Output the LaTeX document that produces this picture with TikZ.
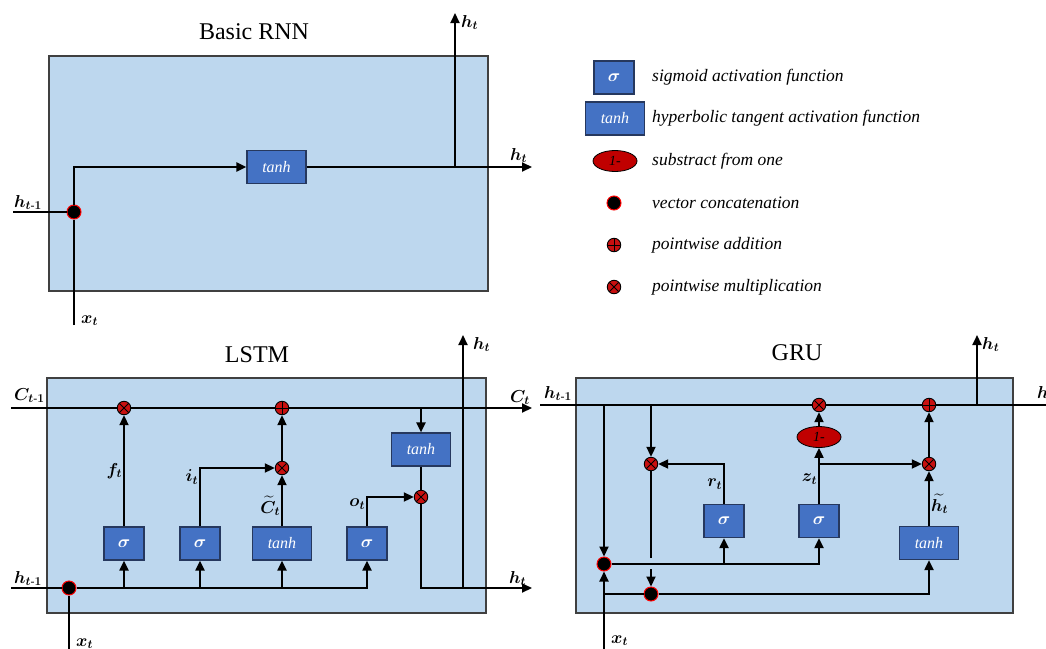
\documentclass[tikz,border=0pt]{standalone}
\usepackage{amsmath}
\usepackage{fontspec}
\setmainfont{Liberation Serif}
\usetikzlibrary{arrows.meta, positioning, shapes.geometric}
\definecolor{cellblue}{RGB}{189,215,238}
\definecolor{cellline}{RGB}{64,64,64}
\definecolor{actblue}{RGB}{68,114,196}
\definecolor{actline}{RGB}{38,56,94}
\definecolor{opred}{RGB}{200,16,16}
\definecolor{onered}{RGB}{192,0,0}
\tikzset{
  cell/.style={rectangle, draw=cellline, fill=cellblue, line width=1.3pt,
    inner sep=0pt, minimum width=439pt, minimum height=235pt},
  actbox/.style={rectangle, draw=actline, fill=actblue, line width=1.2pt,
    inner sep=0pt, minimum height=33pt, text=white},
  sigbox/.style={actbox, minimum width=40pt, font=\fontsize{16}{16}\selectfont\boldmath},
  tanhbox/.style={actbox, minimum width=59pt, font=\itshape\fontsize{16}{16}\selectfont},
  onebox/.style={ellipse, draw=black, fill=onered, line width=0.8pt, inner sep=0pt,
    minimum width=44pt, minimum height=21pt, font=\itshape\fontsize{14}{14}\selectfont},
  concat/.style={circle, draw=red, fill=black, line width=1pt, inner sep=0pt,
    minimum size=14pt},
  multop/.style={circle, draw=black, fill=opred, line width=0.9pt, inner sep=0pt,
    minimum size=13.5pt, path picture={
      \draw[black, line width=0.9pt]
        ([shift={(45:7pt)}]path picture bounding box.center) --
        ([shift={(225:7pt)}]path picture bounding box.center)
        ([shift={(135:7pt)}]path picture bounding box.center) --
        ([shift={(-45:7pt)}]path picture bounding box.center);}},
  addop/.style={circle, draw=black, fill=opred, line width=0.9pt, inner sep=0pt,
    minimum size=13.5pt, path picture={
      \draw[black, line width=0.9pt]
        (path picture bounding box.north) -- (path picture bounding box.south)
        (path picture bounding box.west) -- (path picture bounding box.east);}},
  wire/.style={line width=2pt},
  flow/.style={wire, -{Triangle[length=10pt, width=9pt]}},
  lbl/.style={inner sep=1pt, font=\fontsize{17}{17}\selectfont\boldmath},
  title/.style={font=\fontsize{24}{28}\selectfont},
  legtext/.style={anchor=west, inner sep=0pt, font=\itshape\fontsize{17.5}{20}\selectfont},
}

\begin{document}
\begin{tikzpicture}[x=1pt, y=-1pt]
  \useasboundingbox (0,0) rectangle (1046,648);

  % Basic RNN
  \node[title] (rnntitle) at (254,32) {Basic RNN};
  \node[cell] (rnncell) at (268.5,173.5) {};
  \node[concat] (rnncat) at (74,212) {};
  \node[tanhbox] (rnntanh) at (276.5,167) {tanh};
  \coordinate (rnnin) at (13,212);
  \coordinate (rnnx) at (74,325);
  \coordinate (rnnout) at (532,167);
  \coordinate (rnnup) at (455,13);
  \draw[wire] (rnnin) -- (rnncat);
  \draw[wire] (rnnx) -- (rnncat);
  \draw[flow] (rnncat) |- (rnntanh);
  \draw[flow] (rnntanh) -- (rnnout);
  \draw[flow] (rnntanh -| rnnup) -- (rnnup);
  \node[lbl, anchor=base west] (rnnhprev) at (13,207) {$h_{t\text{-}1}$};
  \node[lbl, anchor=base west] (rnnxt) at (80,323) {$x_t$};
  \node[lbl, anchor=base west] (rnnhout) at (509,160) {$h_t$};
  \node[lbl, anchor=base west] (rnnhup) at (460,27) {$h_t$};

  % Legend
  \node[sigbox] (legsig) at (614,77.5) {$\sigma$};
  \node[tanhbox] (legtanh) at (615,118.5) {tanh};
  \node[onebox] (legone) at (615,161) {1-};
  \node[concat] (legcat) at (614,203) {};
  \node[addop] (legadd) at (614,245) {};
  \node[multop] (legmul) at (614,287) {};
  \node[legtext] (legsigtxt) at (652,77.5) {sigmoid activation function};
  \node[legtext] (legtanhtxt) at (652,118.5) {hyperbolic tangent activation function};
  \node[legtext] (legonetxt) at (652,161) {substract from one};
  \node[legtext] (legcattxt) at (652,203) {vector concatenation};
  \node[legtext] (legaddtxt) at (652,245) {pointwise addition};
  \node[legtext] (legmultxt) at (652,287) {pointwise multiplication};

  % LSTM
  \node[title] (lstmtitle) at (257,355) {LSTM};
  \node[cell] (lstmcell) at (266.5,495.5) {};
  \node[multop] (lmulf) at (124,408) {};
  \node[addop] (ladd) at (282,408) {};
  \node[multop] (lmuli) at (282,468) {};
  \node[multop] (lmulo) at (421,497) {};
  \node[sigbox] (lsigf) at (124,543.5) {$\sigma$};
  \node[sigbox] (lsigi) at (200,543.5) {$\sigma$};
  \node[tanhbox] (ltanhc) at (282,543.5) {tanh};
  \node[sigbox] (lsigo) at (367,543.5) {$\sigma$};
  \node[tanhbox] (ltanhh) at (421,449.5) {tanh};
  \node[concat] (lcat) at (69,588) {};
  \coordinate (lcin) at (11,408);
  \coordinate (lcout) at (532,408);
  \coordinate (lhin) at (11,588);
  \coordinate (lhout) at (532,588);
  \coordinate (lx) at (69,650);
  \coordinate (lup) at (463,335);
  \draw[flow] (lcin) -- (lmulf) -- (ladd) -- (lcout);
  \draw[wire] (lhin) -- (lcat);
  \draw[wire] (lx) -- (lcat);
  \draw[flow] (lcat) -| (lsigo);
  \draw[flow] (lsigf |- lhin) -- (lsigf);
  \draw[flow] (lsigi |- lhin) -- (lsigi);
  \draw[flow] (ltanhc |- lhin) -- (ltanhc);
  \draw[flow] (lsigf) -- node[lbl, left] {$f_t$} (lmulf);
  \draw[flow] (lsigi) |- node[lbl, pos=0.5, anchor=north east] {$i_t$} (lmuli);
  \draw[flow] (ltanhc) -- node[lbl, left, pos=0.4] {$\widetilde{C}_t$} (lmuli);
  \draw[flow] (lmuli) -- (ladd);
  \draw[flow] (lsigo) |- node[lbl, pos=0.5, anchor=north east] {$o_t$} (lmulo);
  \draw[flow] (ltanhh |- lcin) -- (ltanhh);
  \draw[wire] (ltanhh) -- (lmulo);
  \draw[flow] (lmulo) |- (lhout);
  \draw[flow] (lup |- lhout) -- (lup);
  \node[lbl, anchor=base west] (lcprev) at (13,400) {$C_{t\text{-}1}$};
  \node[lbl, anchor=base west] (lcnext) at (509,402) {$C_t$};
  \node[lbl, anchor=base west] (lhprev) at (13,583) {$h_{t\text{-}1}$};
  \node[lbl, anchor=base west] (lhnext) at (508,583) {$h_t$};
  \node[lbl, anchor=base west] (lxt) at (75,646) {$x_t$};
  \node[lbl, anchor=base west] (lhup) at (472,349) {$h_t$};

  % GRU
  \node[title] (grutitle) at (797,353) {GRU};
  \node[cell, minimum width=437pt] (grucell) at (794.5,495.5) {};
  \node[multop] (gmulz) at (819,405) {};
  \node[addop] (gadd) at (929,405) {};
  \node[onebox] (gone) at (819,437) {1-};
  \node[multop] (gmulh) at (929,464) {};
  \node[multop] (gmulr) at (651,464) {};
  \node[sigbox] (gsigr) at (724,521) {$\sigma$};
  \node[sigbox] (gsigz) at (819,521) {$\sigma$};
  \node[tanhbox] (gtanh) at (929,543) {tanh};
  \node[concat] (gcatr) at (604,564) {};
  \node[concat] (gcath) at (651,594) {};
  \coordinate (ghin) at (540,405);
  \coordinate (ghout) at (1050,405);
  \coordinate (gx) at (604,650);
  \coordinate (gup) at (977,335);
  \coordinate (ggapa) at (651,558);
  \coordinate (ggapb) at (651,569);
  \draw[wire] (ghin) -- (gmulz) -- (gadd) -- (ghout);
  \draw[flow] (gcatr |- ghin) -- (gcatr);
  \draw[flow] (gmulr |- ghin) -- (gmulr);
  \draw[wire] (gmulr) -- (ggapa);
  \draw[flow] (ggapb) -- (gcath);
  \draw[flow] (gx) -- (gcatr);
  \draw[wire] (gcath -| gx) -- (gcath);
  \draw[flow] (gcath) -| (gtanh);
  \draw[flow] (gcatr) -| (gsigz);
  \draw[flow] (gsigr |- gcatr) -- (gsigr);
  \draw[flow] (gsigr) |- node[lbl, left, pos=0.25] {$r_t$} (gmulr);
  \draw[flow] (gsigz) -- node[lbl, left, pos=0.44] {$z_t$} (gone);
  \draw[flow] (gsigz |- gmulh) -- (gmulh);
  \draw[flow] (gone) -- (gmulz);
  \draw[flow] (gtanh) -- node[lbl, right, pos=0.4] {$\widetilde{h_t}$} (gmulh);
  \draw[flow] (gmulh) -- (gadd);
  \draw[flow] (gup |- ghin) -- (gup);
  \node[lbl, anchor=base west] (ghprev) at (543,398) {$h_{t\text{-}1}$};
  \node[lbl, anchor=base west] (gxt) at (610,643) {$x_t$};
  \node[lbl, anchor=base west] (ghup) at (981,349) {$h_t$};
  \node[lbl, anchor=base west] (ghnext) at (1036,398) {$h_t$};
\end{tikzpicture}
\end{document}
